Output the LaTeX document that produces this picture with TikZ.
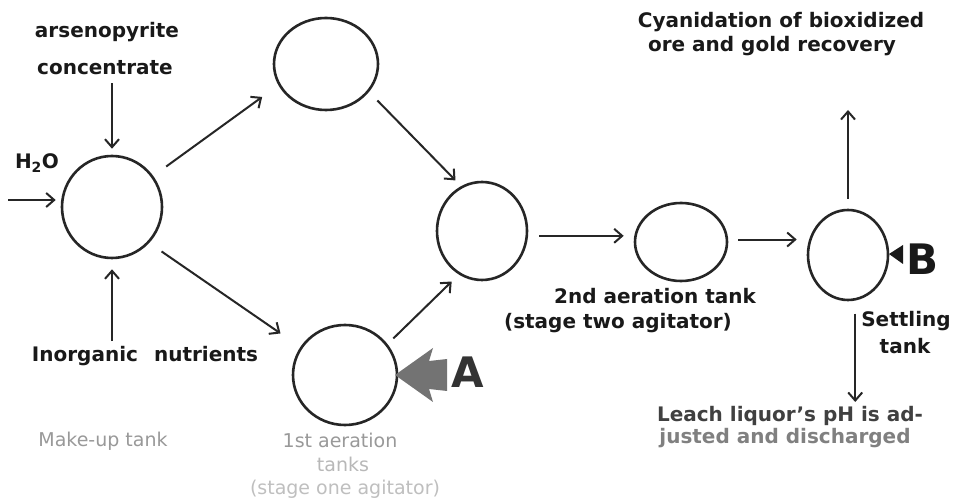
\documentclass[tikz,border=0pt]{standalone}
\usepackage{fontspec}
\setmainfont{DejaVu Sans}
\usetikzlibrary{arrows.meta,shapes.geometric}
\begin{document}
\begin{tikzpicture}[x=1pt,y=-1pt,
 tank/.style={draw=black!85,line width=2.6pt,ellipse,inner sep=0pt},
 arr/.style={draw=black!85,line width=2pt,-{Straight Barb[length=8pt,width=14pt,line width=2pt]}},
 lbl/.style={font=\fontsize{20}{22}\selectfont\bfseries,inner sep=0pt,text=black!90},
 faint/.style={font=\fontsize{19}{21}\selectfont,inner sep=0pt,text=black!40},
 mid/.style={font=\fontsize{20}{22}\selectfont\bfseries,inner sep=0pt,text=black!50},
 big/.style={font=\fontsize{42}{44}\selectfont\bfseries,inner sep=0pt,text=black!80},
]
\useasboundingbox[fill=white] (0,0) rectangle (953,502);

% tanks
\node[tank,minimum width=100pt,minimum height=102pt] (mk) at (112,207) {};
\node[tank,minimum width=104pt,minimum height=92pt] (top) at (326,64) {};
\node[tank,minimum width=90pt,minimum height=98pt] (mid) at (482,231) {};
\node[tank,minimum width=104pt,minimum height=100pt] (f1) at (345,375) {};
\node[tank,minimum width=92pt,minimum height=78pt] (s2) at (681,242) {};
\node[tank,minimum width=80pt,minimum height=90pt] (st) at (848,255) {};

% labels
\node[lbl] (h2o) at (37,163) {H\textsubscript{2}O};
\node[lbl] (ars) at (107,32) {arsenopyrite};
\node[lbl] (conc) at (105,68) {concentrate};
\node[lbl] (inorg) at (145,356) {Inorganic\hspace{0.8em}nutrients};
\node[faint] (mkl) at (103,441) {Make-up tank};
\node[faint] (f1a) at (340,440) {1st aeration};
\node[faint,text=black!28] (f1b) at (343,464) {tanks};
\node[faint,text=black!25] (f1c) at (345,489) {(stage one agitator)};
\node[lbl] (s2a) at (655,296) {2nd aeration tank};
\node[lbl] (s2b) at (618,323) {(stage two agitator)};
\node[lbl] (stl1) at (906,321) {Settling};
\node[lbl] (stl2) at (905,346) {tank};
\node[lbl] (cy1) at (781,22) {Cyanidation of bioxidized};
\node[lbl] (cy2) at (772,46) {ore and gold recovery};
\node[lbl,text=black!75] (lq1) at (790,416) {Leach liquor's pH is ad-};
\node[mid] (lq2) at (785,438) {justed and discharged};

% free ends
\coordinate (win) at (8,200);
\coordinate (cyend) at (848,110);
\coordinate (lqend) at (855,402);

% connectors
\draw[arr,shorten >=5pt] (win) -- (win -| mk.west);
\draw[arr,shorten <=8pt,shorten >=6pt] (mk.north |- conc.south) -- (mk.north);
\draw[arr,shorten <=5pt,shorten >=10pt] (mk.south |- inorg.north) -- (mk.south);
\draw[arr,shorten <=16pt,shorten >=20pt] (mk.37) -- (top.204);
\draw[arr,shorten <=15pt,shorten >=24pt] (mk.-44) -- (f1.148);
\draw[arr,shorten <=12pt,shorten >=8pt] (top.-33) -- (mid.115);
\draw[arr,shorten <=8pt,shorten >=10pt] (f1.36) -- (mid.-118);
\draw[arr,shorten <=11pt,shorten >=10pt] (mid.-6) -- (mid.-6 -| s2.west);
\draw[arr,shorten <=10pt,shorten >=10pt] (s2.3) -- (s2.3 -| st.west);
\draw[arr,shorten <=10pt] (st.north) -- (cyend);
\draw[arr,shorten <=13pt] (st.-81) -- (st.-81 |- lqend);

% marker A
\fill[black!55] (395,375) -- (433,348) -- (429,361) -- (447,359) -- (447,391) -- (429,389) -- (433,402) -- cycle;
\node[big] (la) at (468,372) {A};
% marker B
\fill[black!90] (889,254) -- (903,245) -- (903,264) -- cycle;
\node[big,text=black!90] (lb) at (922,259) {B};
\end{tikzpicture}
\end{document}
